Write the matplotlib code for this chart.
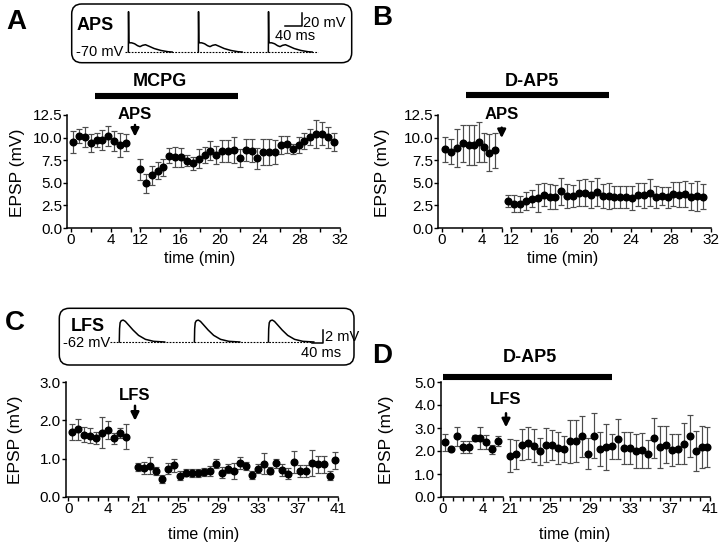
import matplotlib
matplotlib.use('Agg')
import matplotlib.pyplot as plt
from matplotlib.lines import Line2D
from matplotlib.patches import FancyBboxPatch

W, H = 720, 550
plt.rcParams['font.family'] = ['Liberation Sans', 'DejaVu Sans']

# ---- panel A: APS + MCPG ----
a_t_base = [0.2, 0.8, 1.4, 2.0, 2.6, 3.1, 3.7, 4.3, 4.9, 5.5]
a_m_base = [9.5, 10.15, 10.05, 9.4, 9.75, 9.7, 10.15, 9.65, 9.2, 9.45]
a_e_base = [1.2, 0.75, 1.1, 0.95, 0.8, 1.1, 1.1, 1.1, 1.35, 0.95]
a_t_post = [12.0, 12.6, 13.2, 13.8, 14.3, 14.9, 15.5, 16.1, 16.7, 17.3, 17.9, 18.5,
            19.0, 19.6, 20.2, 20.8, 21.4, 22.0, 22.6, 23.2, 23.7, 24.3, 24.9, 25.5,
            26.1, 26.7, 27.3, 27.9, 28.4, 29.0, 29.6, 30.2, 30.8, 31.4]
a_m_post = [6.5, 4.95, 5.85, 6.35, 6.7, 8.0, 7.85, 7.8, 7.45, 7.15, 7.65, 8.1,
            8.55, 8.1, 8.55, 8.55, 8.65, 7.7, 8.65, 8.55, 7.7, 8.4, 8.4, 8.4,
            9.15, 9.25, 8.75, 9.2, 9.6, 10.05, 10.4, 10.45, 10.05, 9.5]
a_e_post = [1.15, 1.05, 1.05, 0.9, 0.9, 0.85, 1.15, 1.1, 0.6, 0.7, 1.05, 0.9,
            1.05, 1.0, 1.2, 1.2, 1.45, 1.0, 1.25, 1.3, 1.2, 1.4, 1.4, 1.3,
            1.0, 0.9, 0.55, 0.9, 0.9, 0.9, 1.5, 1.3, 1.15, 1.0]

# ---- panel B: APS + D-AP5 ----
b_t_base = [0.3, 0.9, 1.5, 2.1, 2.7, 3.2, 3.7, 4.2, 4.7, 5.3]
b_m_base = [8.7, 8.45, 8.85, 9.35, 9.2, 9.2, 9.5, 8.95, 8.35, 8.6]
b_e_base = [1.4, 1.4, 2.1, 2.0, 2.2, 2.2, 2.2, 1.6, 2.0, 1.95]
b_t_post = [11.7, 12.3, 12.9, 13.5, 14.1, 14.7, 15.3, 15.9, 16.4, 17.0, 17.6, 18.2,
            18.8, 19.4, 20.0, 20.6, 21.2, 21.8, 22.3, 22.9, 23.5, 24.1, 24.7, 25.3,
            25.9, 26.5, 27.1, 27.7, 28.2, 28.8, 29.4, 30.0, 30.6, 31.2]
b_m_post = [3.0, 2.7, 2.65, 2.95, 3.25, 3.3, 3.7, 3.45, 3.4, 4.05, 3.55, 3.55,
            3.85, 3.9, 3.7, 4.0, 3.55, 3.55, 3.45, 3.4, 3.45, 3.3, 3.7, 3.6,
            3.9, 3.45, 3.5, 3.4, 3.75, 3.7, 3.75, 3.45, 3.55, 3.45]
b_e_post = [0.65, 0.95, 0.9, 1.0, 0.95, 1.55, 1.3, 1.4, 1.35, 1.5, 1.3, 1.2,
            1.45, 1.5, 1.45, 1.55, 1.3, 1.4, 1.2, 1.2, 1.2, 1.3, 1.25, 1.4,
            1.5, 1.25, 1.0, 1.15, 1.35, 1.4, 1.45, 1.5, 1.65, 1.4]

# ---- panel C: LFS ----
c_t_base = [0.4, 1.0, 1.6, 2.2, 2.8, 3.4, 4.0, 4.6, 5.2, 5.8]
c_m_base = [1.70, 1.77, 1.63, 1.60, 1.54, 1.68, 1.74, 1.53, 1.67, 1.57]
c_e_base = [0.2, 0.27, 0.19, 0.19, 0.15, 0.41, 0.23, 0.15, 0.14, 0.33]
c_t_post = [21.0, 21.6, 22.2, 22.8, 23.4, 24.0, 24.6, 25.2, 25.8, 26.4, 27.0, 27.6,
            28.2, 28.8, 29.4, 30.0, 30.6, 31.2, 31.8, 32.4, 33.0, 33.6, 34.2, 34.8,
            35.4, 36.0, 36.6, 37.2, 37.8, 38.4, 39.0, 39.6, 40.2, 40.7]
c_m_post = [0.78, 0.76, 0.82, 0.68, 0.47, 0.74, 0.83, 0.56, 0.63, 0.63, 0.63, 0.65,
            0.67, 0.87, 0.63, 0.74, 0.68, 0.89, 0.81, 0.57, 0.74, 0.87, 0.68, 0.88,
            0.70, 0.61, 0.91, 0.67, 0.67, 0.89, 0.85, 0.85, 0.56, 0.96]
c_e_post = [0.11, 0.15, 0.23, 0.1, 0.11, 0.15, 0.17, 0.11, 0.09, 0.1, 0.1, 0.11,
            0.13, 0.11, 0.14, 0.12, 0.22, 0.16, 0.1, 0.11, 0.12, 0.28, 0.09, 0.12,
            0.15, 0.14, 0.28, 0.16, 0.16, 0.33, 0.22, 0.23, 0.11, 0.22]

# ---- panel D: LFS + D-AP5 ----
d_t_base = [0.2, 0.8, 1.4, 2.0, 2.6, 3.2, 3.7, 4.3, 4.9, 5.5]
d_m_base = [2.38, 2.07, 2.64, 2.17, 2.16, 2.57, 2.57, 2.39, 2.07, 2.43]
d_e_base = [0.36, 0.07, 0.41, 0.27, 0.26, 0.12, 0.48, 0.32, 0.2, 0.23]
d_t_post = c_t_post
d_m_post = [1.8, 1.86, 2.28, 2.35, 2.23, 1.99, 2.26, 2.25, 2.13, 2.09, 2.43, 2.43,
            2.64, 1.88, 2.67, 2.09, 2.17, 2.2, 2.54, 2.13, 2.13, 2.0, 2.03, 1.88,
            2.57, 2.17, 2.28, 2.06, 2.09, 2.32, 2.64, 2.0, 2.17, 2.17]
d_e_post = [0.72, 0.63, 0.67, 0.7, 0.71, 0.58, 0.73, 0.65, 0.71, 0.57, 0.93, 0.92,
            0.9, 0.67, 0.97, 0.73, 0.99, 0.55, 0.87, 0.68, 0.68, 0.75, 0.75, 0.62,
            0.86, 0.93, 0.8, 0.7, 0.67, 0.88, 0.91, 0.87, 0.91, 0.87]

# drug application bars (min): start on baseline axis, end on post axis
mcpg_bar = (2.4, 21.8)
dap5_bar_b = (2.4, 21.8)
dap5_bar_d = (0.0, 31.2)

# example traces in the insets (ms after stimulus, mV)
aps_wave_t = [0, 0.4, 1.2, 3, 8, 15, 22, 28, 34, 41, 50, 62, 78, 95, 105]
aps_wave_v = [-70, -6.5, -54, -55.5, -55.5, -57, -60, -61.5, -59.5, -58.5, -61, -64.5, -67.5, -69.5, -70]
aps_onsets = [0, 168, 336]
lfs_wave_t = [0, 1, 3, 7, 14, 22, 35, 50, 70, 95, 125, 165]
lfs_wave_v = [-62, -60.0, -59.1, -58.8, -58.7, -58.9, -59.5, -60.2, -61.0, -61.6, -61.9, -62.0]
lfs_onsets = [0, 273, 542]


def px_axes(fig, x0, x1, ytop, ybot):
    return fig.add_axes([x0 / W, 1 - ybot / H, (x1 - x0) / W, (ybot - ytop) / H])


def fig_px(fig, disp):
    return disp[0] / fig.dpi * 100, H - disp[1] / fig.dpi * 100


def draw_panel(fig, box, ylim, yticks, xlim_l, xlim_r, ticks_l, ticks_r,
               lab_l, lab_r, base, post):
    x0, x1, x2, x3, ytop, ybot = box
    axl = px_axes(fig, x0, x1, ytop, ybot)
    axr = px_axes(fig, x2, x3, ytop, ybot)
    for ax in (axl, axr):
        ax.set_ylim(ylim)
        ax.patch.set_visible(False)
        for s in ('top', 'right'):
            ax.spines[s].set_visible(False)
        ax.spines['bottom'].set_linewidth(1.1)
        ax.spines['left'].set_linewidth(1.1)
        ax.tick_params(direction='out', length=2.6, width=1.0, labelsize=11, pad=1.2)
    axr.spines['left'].set_visible(False)
    axr.tick_params(axis='y', left=False, labelleft=False)
    axl.set_yticks(yticks)
    axl.set_yticklabels([f'{v:.1f}' for v in yticks])
    axl.set_xlim(xlim_l)
    axr.set_xlim(xlim_r)
    axl.set_xticks(ticks_l)
    axl.set_xticklabels([str(t) if t in lab_l else '' for t in ticks_l])
    axr.set_xticks(ticks_r)
    axr.set_xticklabels([str(t) if t in lab_r else '' for t in ticks_r])
    for ax, (t, m, e) in ((axl, base), (axr, post)):
        ax.errorbar(t, m, yerr=e, fmt='o', color='black', ms=4.8, ecolor='0.3',
                    elinewidth=0.85, capsize=2.2, capthick=0.85, zorder=3, clip_on=False)
    return axl, axr


def drug_bar(fig, axl, axr, span, y_px, label, label_x, label_y):
    xa, _ = fig_px(fig, axl.transData.transform((span[0], 0)))
    xb, _ = fig_px(fig, axr.transData.transform((span[1], 0)))
    fig.add_artist(Line2D([xa / W, xb / W], [1 - y_px / H] * 2, color='black',
                          lw=4.4, solid_capstyle='butt', transform=fig.transFigure))
    fig.text(label_x / W, 1 - label_y / H, label, ha='center', va='center',
             fontsize=13, fontweight='bold')


def stim_arrow(ax, x, ytext, ytail, ytip, label):
    ax.annotate('', xy=(x, ytip), xytext=(x, ytail), annotation_clip=False,
                arrowprops=dict(arrowstyle='-|>', color='black', lw=1.8,
                                mutation_scale=12, shrinkA=0, shrinkB=0))
    ax.text(x, ytext, label, ha='center', va='center', fontsize=12,
            fontweight='bold', clip_on=False)


def rounded_box(fig, x0, x1, ytop, ybot):
    fig.add_artist(FancyBboxPatch((x0 / 100, (H - ybot) / 100), (x1 - x0) / 100,
                                  (ybot - ytop) / 100, boxstyle='round,pad=0,rounding_size=0.1',
                                  transform=fig.dpi_scale_trans, fill=False, lw=1.1,
                                  ec='black'))


fig = plt.figure(figsize=(W / 100, H / 100), dpi=100)

aps_yt = [0, 2.5, 5.0, 7.5, 10.0, 12.5]
axl, axr = draw_panel(fig, (67.3, 130.7, 140, 340, 115, 228), (0, 12.5), aps_yt,
                      (-0.37, 6.0), (12, 32), [0, 2, 4, 6], list(range(12, 33, 2)),
                      [0, 4], [12, 16, 20, 24, 28, 32],
                      (a_t_base, a_m_base, a_e_base), (a_t_post, a_m_post, a_e_post))
drug_bar(fig, axl, axr, mcpg_bar, 96, 'MCPG', 160, 82)
stim_arrow(axr, 11.5, 12.6, 11.4, 10.1, 'APS')

axl, axr = draw_panel(fig, (438.5, 501.7, 511, 711, 115, 228), (0, 12.5), aps_yt,
                      (-0.32, 6.0), (12, 32), [0, 2, 4, 6], list(range(12, 33, 2)),
                      [0, 4], [12, 16, 20, 24, 28, 32],
                      (b_t_base, b_m_base, b_e_base), (b_t_post, b_m_post, b_e_post))
drug_bar(fig, axl, axr, dap5_bar_b, 95, 'D-AP5', 532, 82)
stim_arrow(axr, 11.07, 12.6, 11.1, 9.95, 'APS')

axl, axr = draw_panel(fig, (66, 129, 138.3, 338.3, 382, 497), (0, 3.0), [0, 1.0, 2.0, 3.0],
                      (-0.23, 6.07), (21, 41), list(range(0, 7)), list(range(21, 42)),
                      [0, 4], [21, 25, 29, 33, 37, 41],
                      (c_t_base, c_m_base, c_e_base), (c_t_post, c_m_post, c_e_post))
stim_arrow(axr, 20.67, 2.66, 2.38, 1.99, 'LFS')

axl, axr = draw_panel(fig, (440.7, 502.7, 510, 710, 382, 497), (0, 5.0),
                      [0, 1.0, 2.0, 3.0, 4.0, 5.0],
                      (-0.2, 6.0), (21, 41), list(range(0, 7)), list(range(21, 42)),
                      [0, 4], [21, 25, 29, 33, 37, 41],
                      (d_t_base, d_m_base, d_e_base), (d_t_post, d_m_post, d_e_post))
drug_bar(fig, axl, axr, dap5_bar_d, 377, 'D-AP5', 530, 358)
stim_arrow(axr, 20.6, 4.25, 3.64, 3.03, 'LFS')

# axis titles
for x, y in ((18, 173), (383, 173), (16, 440), (386, 440)):
    fig.text(x / W, 1 - y / H, 'EPSP (mV)', rotation=90, ha='center', va='center', fontsize=12.5)
for x, y in ((200, 258), (563, 258), (204, 534), (575, 534)):
    fig.text(x / W, 1 - y / H, 'time (min)', ha='center', va='center', fontsize=11.5)

# panel letters
for lab, x, y in (('A', 16, 21.7), ('B', 382, 18), ('C', 15, 323), ('D', 382, 356)):
    fig.text(x / W, 1 - y / H, lab, ha='center', va='center', fontsize=20, fontweight='bold')

# inset A: APS trace
ins = px_axes(fig, 71.7, 351.7, 4, 62.7)
ins.set_xlim(-136, 536)
ins.set_ylim(-86.8, 5.6)
ins.axis('off')
for t0 in aps_onsets:
    ins.plot([t0 + t for t in aps_wave_t], aps_wave_v, color='black', lw=1.1)
ins.plot([-8, 455], [-70, -70], color='black', lw=0.8, ls=(0, (1.6, 1.2)))
ins.plot([376, 416, 416], [-29, -29, -9], color='black', lw=1.1)
ins.text(-80, -29, 'APS', ha='center', va='center', fontsize=13, fontweight='bold')
ins.text(-68, -70, '-70 mV', ha='center', va='center', fontsize=10.5)
ins.text(420, -24, '20 mV', ha='left', va='center', fontsize=10.5)
ins.text(400, -45, '40 ms', ha='center', va='center', fontsize=10.5)
rounded_box(fig, 71.7, 351.7, 4, 62.7)

# inset C: LFS trace
ins = px_axes(fig, 59.3, 354, 308.3, 365)
ins.set_xlim(-218, 853)
ins.set_ylim(-65.46, -56.93)
ins.axis('off')
for t0 in lfs_onsets:
    ins.plot([t0 + t for t in lfs_wave_t], lfs_wave_v, color='black', lw=1.1)
ins.plot([-34, 704], [-62, -62], color='black', lw=0.8, ls=(0, (1.6, 1.2)))
ins.plot([700, 740, 740], [-62.2, -62.2, -60.2], color='black', lw=1.1)
ins.text(-116, -59.7, 'LFS', ha='center', va='center', fontsize=13, fontweight='bold')
ins.text(-119, -62.1, '-62 mV', ha='center', va='center', fontsize=10.5)
ins.text(747, -61.2, '2 mV', ha='left', va='center', fontsize=10.5)
ins.text(732, -63.7, '40 ms', ha='center', va='center', fontsize=10.5)
rounded_box(fig, 59.3, 354, 308.3, 365)

fig.savefig('out.png', dpi=100)
